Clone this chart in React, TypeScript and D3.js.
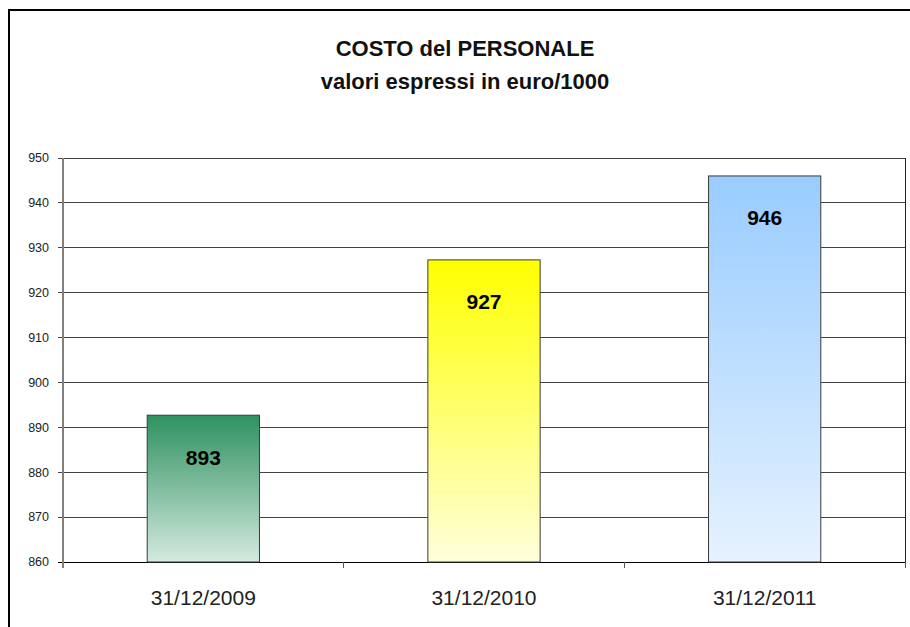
import * as d3 from "d3";
import { useEffect, useRef } from "react";

const categories = ["31/12/2009", "31/12/2010", "31/12/2011"];
const values = [892.7, 927.3, 946.0];
const yTicks = [860, 870, 880, 890, 900, 910, 920, 930, 940, 950];
const topColors = ["#2f9160", "#ffff00", "#99ccff"];
const bottomColors = ["#d3eadf", "#ffffdc", "#e6f2ff"];

const W = 910;
const H = 627;
const font = "Liberation Sans, Arial, sans-serif";

const App = () => {
  const ref = useRef<SVGSVGElement>(null);

  useEffect(() => {
    const svg = d3.select(ref.current);
    svg.selectAll("*").remove();

    const left = 63;
    const right = 905;
    const top = 158;
    const bottom = 562;

    const x = d3
      .scaleBand()
      .domain(categories)
      .range([left, right])
      .paddingInner(0.6)
      .paddingOuter(0.3);
    const xCat = d3.scaleBand().domain(categories).range([left, right]);
    const y = d3.scaleLinear().domain([860, 950]).range([bottom, top]);

    const defs = svg.append("defs");
    categories.forEach((c, i) => {
      const g = defs
        .append("linearGradient")
        .attr("id", "grad" + i)
        .attr("x1", 0)
        .attr("y1", 0)
        .attr("x2", 0)
        .attr("y2", 1);
      g.append("stop").attr("offset", "0%").attr("stop-color", topColors[i]);
      g.append("stop").attr("offset", "100%").attr("stop-color", bottomColors[i]);
    });

    svg.append("rect").attr("width", W).attr("height", H).attr("fill", "white");

    // outer chart border (right and bottom edges fall outside the picture)
    svg
      .append("rect")
      .attr("x", 9)
      .attr("y", 10)
      .attr("width", W + 20)
      .attr("height", H + 20)
      .attr("fill", "none")
      .attr("stroke", "#000")
      .attr("stroke-width", 2);

    // title
    const title = svg
      .append("text")
      .attr("text-anchor", "middle")
      .attr("font-family", font)
      .attr("font-weight", "bold")
      .attr("font-size", 22)
      .attr("fill", "#111");
    title.append("tspan").attr("x", 465).attr("y", 56).text("COSTO del PERSONALE");
    title.append("tspan").attr("x", 465).attr("y", 89).text("valori espressi in euro/1000");

    // gridlines
    svg
      .append("g")
      .selectAll("line")
      .data(yTicks)
      .enter()
      .append("line")
      .attr("x1", left - 5)
      .attr("x2", right)
      .attr("y1", (d) => y(d))
      .attr("y2", (d) => y(d))
      .attr("stroke", (d) => (d === 860 ? "#000" : "#444"))
      .attr("stroke-width", 1)
      .attr("shape-rendering", "crispEdges");

    // plot right border
    svg
      .append("line")
      .attr("x1", right)
      .attr("x2", right)
      .attr("y1", top)
      .attr("y2", bottom + 5)
      .attr("stroke", "#222")
      .attr("shape-rendering", "crispEdges");

    // y axis
    svg
      .append("line")
      .attr("x1", left)
      .attr("x2", left)
      .attr("y1", top)
      .attr("y2", bottom + 6)
      .attr("stroke", "#808080")
      .attr("stroke-width", 1.5)
      .attr("shape-rendering", "crispEdges");

    svg
      .append("g")
      .selectAll("text")
      .data(yTicks)
      .enter()
      .append("text")
      .attr("x", 49)
      .attr("y", (d) => y(d))
      .attr("dy", "0.35em")
      .attr("text-anchor", "end")
      .attr("font-family", font)
      .attr("font-size", 12.5)
      .attr("fill", "#222")
      .text((d) => d);

    // x ticks at category boundaries
    svg
      .append("g")
      .selectAll("line")
      .data(categories)
      .enter()
      .append("line")
      .attr("x1", (d) => (xCat(d) as number) + xCat.bandwidth())
      .attr("x2", (d) => (xCat(d) as number) + xCat.bandwidth())
      .attr("y1", bottom)
      .attr("y2", bottom + 6)
      .attr("stroke", "#555")
      .attr("shape-rendering", "crispEdges");

    // bars
    svg
      .append("g")
      .selectAll("rect")
      .data(values)
      .enter()
      .append("rect")
      .attr("x", (d, i) => x(categories[i]) as number)
      .attr("y", (d) => y(d))
      .attr("width", x.bandwidth())
      .attr("height", (d) => bottom - y(d))
      .attr("fill", (d, i) => `url(#grad${i})`)
      .attr("stroke", "#3a3a3a")
      .attr("stroke-width", 1);

    // value labels
    svg
      .append("g")
      .selectAll("text")
      .data(values)
      .enter()
      .append("text")
      .attr("x", (d, i) => (x(categories[i]) as number) + x.bandwidth() / 2)
      .attr("y", (d) => y(d) + 42)
      .attr("dy", "0.35em")
      .attr("text-anchor", "middle")
      .attr("font-family", font)
      .attr("font-weight", "bold")
      .attr("font-size", 21)
      .attr("fill", "#000")
      .text((d) => d3.format(".0f")(d));

    // category labels
    svg
      .append("g")
      .selectAll("text")
      .data(categories)
      .enter()
      .append("text")
      .attr("x", (d) => (xCat(d) as number) + xCat.bandwidth() / 2)
      .attr("y", 605)
      .attr("text-anchor", "middle")
      .attr("font-family", font)
      .attr("font-size", 21)
      .attr("fill", "#222")
      .text((d) => d);
  }, []);

  return (
    <svg
      ref={ref}
      width={W}
      height={H}
      style={{ position: "absolute", left: 0, top: 0 }}
    />
  );
};

export default App;
